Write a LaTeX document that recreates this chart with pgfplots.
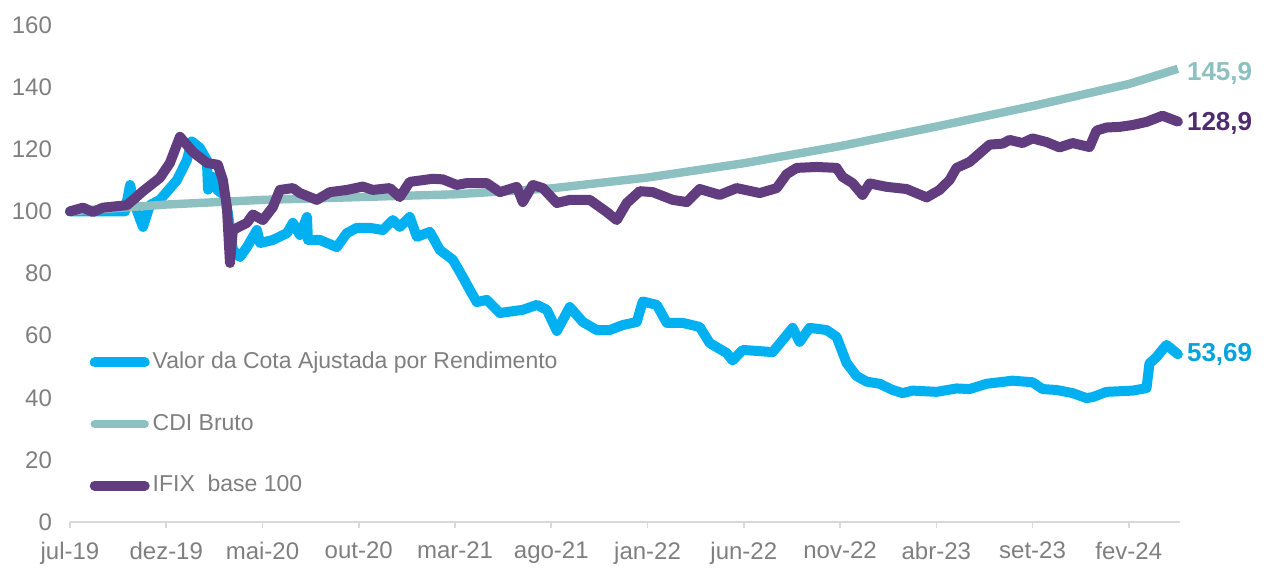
\documentclass[border=0pt]{standalone}
\usepackage{fontspec}
\setmainfont{Liberation Sans}
\usepackage{pgfplots}
\pgfplotsset{compat=1.18}

\definecolor{cota}{HTML}{00B0F0}
\definecolor{cotalbl}{HTML}{05A3DD}
\definecolor{cdi}{HTML}{8CC0C1}
\definecolor{ifix}{HTML}{613D80}
\definecolor{ifixlbl}{HTML}{4F2C6C}
\definecolor{txtgrey}{HTML}{7F7F7F}
\definecolor{axisgrey}{HTML}{D9D9D9}

% x = months since jul-19
\pgfplotstableread{
m v
0 100
1.56 100
2.86 100
3.12 108.5
3.37 102
3.79 95
4.15 102
4.67 103.7
5.56 110.1
6.07 116.5
6.33 122.5
6.75 120.4
7.11 116.5
7.17 107
7.42 111.1
7.63 107
8.00 105.3
8.20 99.5
8.46 87.6
8.83 85.3
9.19 88.5
9.71 94.0
9.87 89.8
10.54 90.8
11.27 93.0
11.58 96.3
11.94 92.4
12.31 98.2
12.36 90.8
12.98 90.8
13.86 88.5
14.38 93.0
14.90 94.7
15.58 94.7
16.25 94.0
16.77 97.2
17.13 95.0
17.65 98.2
18.02 91.8
18.69 93.4
19.21 87.6
19.89 84.4
20.40 78.9
20.77 74.7
21.13 70.8
21.65 71.5
22.33 67.3
23.52 68.3
24.25 69.9
24.77 68.3
25.29 61.5
25.96 69.2
26.64 64.4
27.36 61.8
28.04 61.8
28.71 63.4
29.44 64.4
29.75 71.0
30.48 69.9
31.00 64.1
31.83 64.1
32.71 62.8
33.23 57.6
34.11 54.4
34.42 52.0
34.94 55.4
36.50 54.7
37.02 58.6
37.54 62.5
37.90 58.0
38.42 62.5
39.30 61.8
39.82 59.6
40.34 51.2
40.86 47.0
41.38 45.2
42.06 44.5
42.73 42.5
43.25 41.5
43.77 42.3
45.02 41.9
46.05 43.0
46.73 42.8
47.61 44.5
48.96 45.5
50.00 45.0
50.52 42.8
51.25 42.5
52.08 41.5
52.80 39.9
53.12 40.2
53.84 41.9
55.19 42.3
55.92 43.1
56.07 51.0
56.44 53.1
56.75 55.5
56.96 57.0
57.20 55.8
57.55 54.0
}\cota

\pgfplotstableread{
m v
0 100
5 102.2
10 103.7
15 104.6
20 105.5
25 107.4
30 110.9
35 115.5
40 121.0
45 127.3
50 133.9
55 141.0
57.55 145.9
}\cdi

\pgfplotstableread{
m v
0 100
0.67 101.2
1.19 99.8
1.71 101.2
2.96 102.0
3.79 106.5
4.67 110.8
5.19 115.6
5.71 124.0
6.39 119.1
7.11 115.6
7.68 115.0
7.94 110.1
8.15 101.4
8.31 83.4
8.46 94.0
9.19 96.3
9.50 99.0
10.02 97.2
10.54 101.4
10.90 106.9
11.58 107.5
11.94 105.9
12.82 103.7
13.50 106.2
14.38 106.9
15.21 108.0
15.73 106.9
16.61 107.5
17.13 104.6
17.65 109.5
18.85 110.5
19.37 110.3
20.09 108.5
20.61 109.1
21.65 109.1
22.33 106.2
23.21 107.9
23.52 103.0
24.04 108.5
24.56 107.5
25.29 102.7
25.96 103.7
27.00 103.7
27.88 99.8
28.40 97.2
28.92 102.7
29.60 106.5
30.27 106.2
31.31 103.7
32.04 103.0
32.71 107.2
33.75 105.3
34.63 107.5
35.83 105.9
36.71 107.5
37.23 112.0
37.75 114.0
38.79 114.3
39.82 114.0
40.13 111.1
40.65 109.1
41.17 105.3
41.54 109.0
42.42 107.9
43.46 107.2
44.50 104.5
45.17 106.9
45.69 110.1
46.05 114.0
46.73 115.9
47.77 121.5
48.44 121.8
48.81 123.0
49.48 122.0
50.00 123.5
50.73 122.3
51.40 120.6
52.08 122.0
52.96 120.7
53.32 126.0
53.84 127.0
54.52 127.2
55.19 127.8
55.92 128.8
56.75 130.8
57.55 128.9
}\ifix

\begin{document}
\begin{tikzpicture}
\begin{axis}[
  at={(0,0)}, anchor=south west,
  width=555pt, height=248.5pt, scale only axis,
  xmin=0, xmax=57.66, ymin=0, ymax=160,
  axis x line=bottom, axis y line=left,
  axis line style={-},
  x axis line style={draw=axisgrey, line width=0.8pt},
  y axis line style={draw=none},
  xtick={0,5,...,55},
  xticklabels={jul-19,dez-19,mai-20,out-20,mar-21,ago-21,jan-22,jun-22,nov-22,abr-23,set-23,fev-24},
  ytick={0,20,...,160},
  tick align=outside, major tick length=3pt,
  x tick style={draw=axisgrey, line width=0.8pt},
  y tick style={draw=none},
  tick label style={font=\fontsize{12}{14}\selectfont, text=txtgrey},
  x tick label style={yshift=-3.5pt},
  y tick label style={xshift=-2.5pt},
  /pgf/number format/assume math mode=true,
  clip=false,
  legend cell align=left,
  legend style={draw=none, fill=none, at={(0.012,0.358)}, anchor=north west,
    font=\fontsize{11.5}{13}\selectfont, text=txtgrey, row sep=16.8pt,
    nodes={inner sep=1.5pt, text height=8.5pt, text depth=2.5pt}},
  legend image code/.code={\draw[#1, line cap=round] (0pt,0pt) -- (25pt,0pt);},
]
\addplot[cota, line width=5pt, line join=round, line cap=round] table[x=m, y=v] {\cota};
\addlegendentry{Valor da Cota Ajustada por Rendimento}
\addplot[cdi, line width=4.2pt, line join=round] table[x=m, y=v] {\cdi};
\addlegendentry{CDI Bruto}
\addplot[ifix, line width=5pt, line join=round, line cap=round] table[x=m, y=v] {\ifix};
\addlegendentry{IFIX\ \ base 100}

\node[anchor=west, text=cdi, font=\bfseries\fontsize{13}{15}\selectfont] at (axis cs:57.66,144.3) {145,9};
\node[anchor=west, text=ifixlbl, font=\bfseries\fontsize{13}{15}\selectfont] at (axis cs:57.66,128.4) {128,9};
\node[anchor=west, text=cotalbl, font=\bfseries\fontsize{13}{15}\selectfont] at (axis cs:57.66,54.0) {53,69};
\end{axis}
\path (-35pt,-20.5pt) rectangle (598.5pt,261pt);
\end{tikzpicture}
\end{document}
